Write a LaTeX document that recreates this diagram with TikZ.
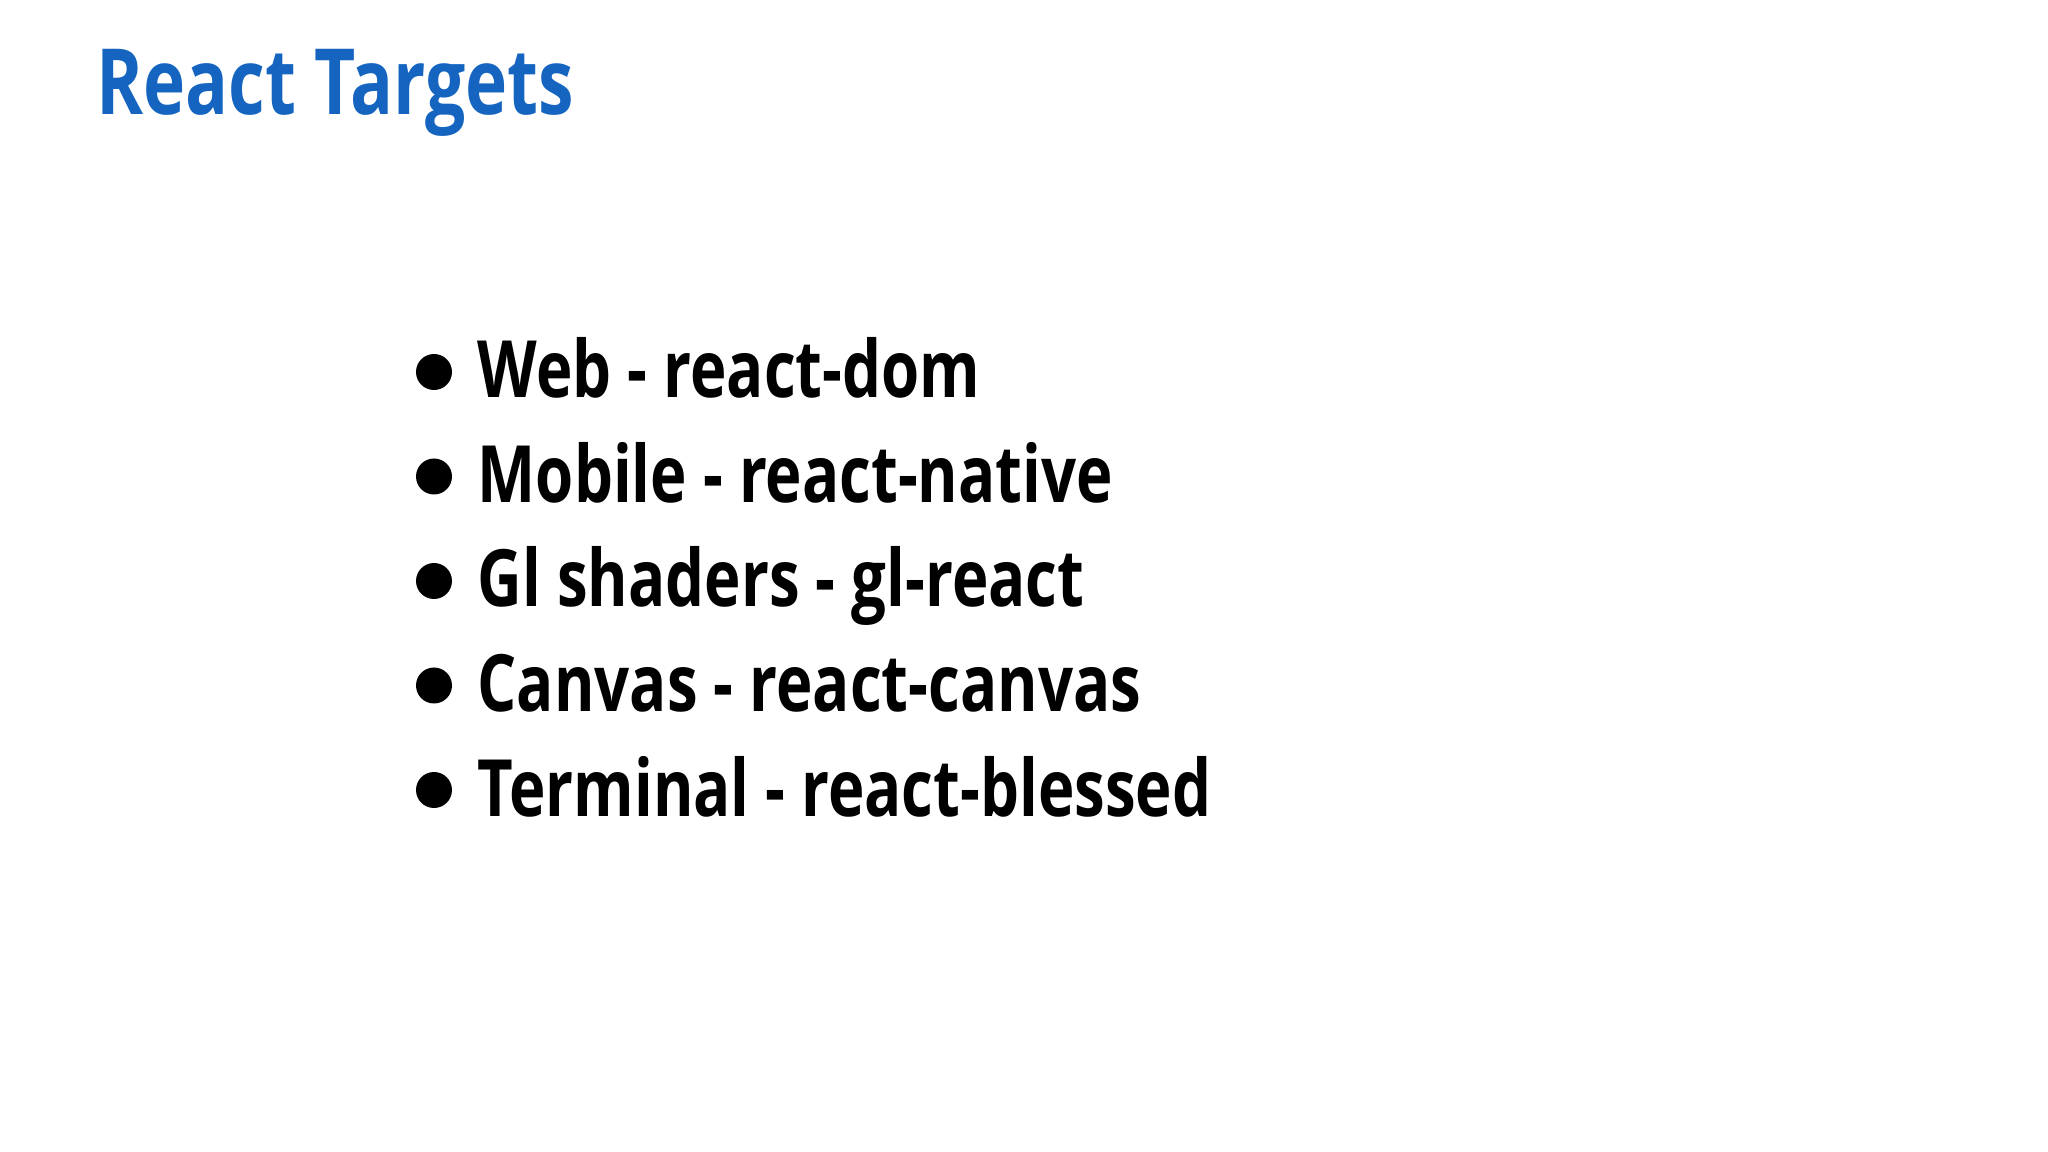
\documentclass[tikz,border=0pt]{standalone}
\usepackage{fontspec}
\setmainfont{Open Sans}[FakeStretch=0.78]
\definecolor{titleblue}{HTML}{1565C0}
\tikzset{item/.style={anchor=base west, inner sep=0pt, font=\bfseries\fontsize{22.5}{27}\selectfont},
 dot/.style={circle, fill=black, inner sep=0pt, minimum size=0.36cm}}
\begin{document}
\begin{tikzpicture}[x=1cm,y=-1cm]
\useasboundingbox[fill=white] (0,0) rectangle (20.48,11.52);
\node[anchor=base west, inner sep=0pt, text=titleblue, font=\bfseries\fontsize{26}{30}\selectfont] (title) at (0.96,1.15) {React Targets};
\foreach \i/\t in {0/Web - react-dom,1/Mobile - react-native,2/Gl shaders - gl-react,3/Canvas - react-canvas,4/Terminal - react-blessed}{
  \node[item] (t\i) at (4.77,3.98+1.045*\i) {\t};
  \node[dot] (b\i) at (4.34,3.72+1.045*\i) {};
}
\end{tikzpicture}
\end{document}
